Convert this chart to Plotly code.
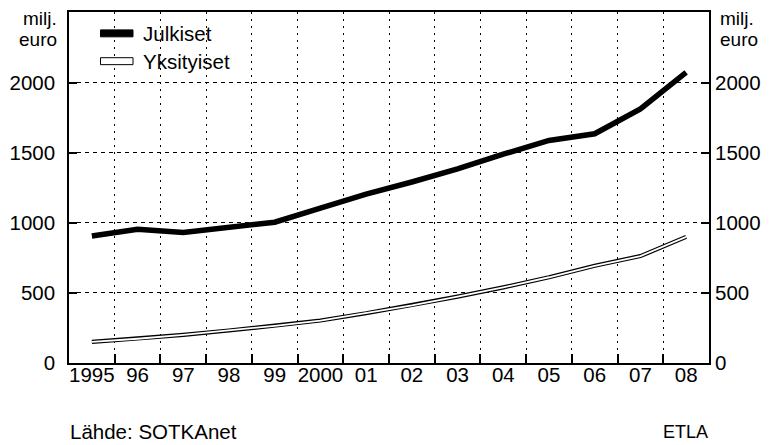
import plotly.graph_objects as go

years = ["1995", "96", "97", "98", "99", "2000", "01", "02", "03", "04", "05", "06", "07", "08"]
julkiset = [907, 955, 932, 968, 1005, 1105, 1205, 1292, 1385, 1490, 1588, 1636, 1813, 2074]
yksityiset = [151, 173, 201, 232, 265, 303, 355, 412, 474, 540, 612, 694, 763, 900]
y_ticks = [0, 500, 1000, 1500, 2000]

x = list(range(len(years)))
FONT = "Liberation Sans, Arial, sans-serif"
FS = 20.5

fig = go.Figure()
fig.add_trace(go.Scatter(x=x, y=julkiset, mode="lines", name="Julkiset",
                         line=dict(color="black", width=5.5), showlegend=False))
fig.add_trace(go.Scatter(x=x, y=yksityiset, mode="lines", name="Yksityiset",
                         line=dict(color="black", width=4.2), showlegend=False))
fig.add_trace(go.Scatter(x=x, y=yksityiset, mode="lines", name="Yksityiset",
                         line=dict(color="white", width=1.8), showlegend=False, hoverinfo="skip"))
fig.add_trace(go.Scatter(x=[None], y=[None], yaxis="y2", showlegend=False))

yr = [0, 2505]
fig.update_layout(
    width=771, height=445,
    margin=dict(l=63, r=58, t=10, b=82),
    paper_bgcolor="white", plot_bgcolor="white",
    font=dict(family=FONT, size=FS, color="black"),
    xaxis=dict(
        range=[-0.5, len(years) - 0.5],
        tickmode="array", tickvals=x, ticktext=years,
        ticks="", showgrid=False, zeroline=False, ticklabelstandoff=-7,
        showline=True, linecolor="black", linewidth=1.5, mirror=True,
        minor=dict(tickmode="array", tickvals=[i + 0.5 for i in x[:-1]],
                   ticks="inside", ticklen=9, tickcolor="black", tickwidth=1.5,
                   showgrid=True, gridcolor="black", gridwidth=1, griddash="2px,5px"),
    ),
    yaxis=dict(
        range=yr, tickmode="array", tickvals=y_ticks,
        ticks="inside", ticklen=8, tickcolor="black", tickwidth=1.5, ticklabelstandoff=8,
        showgrid=True, gridcolor="black", gridwidth=1, griddash="4px,4px",
        zeroline=False, showline=True, linecolor="black", linewidth=1.5, mirror=True,
    ),
    yaxis2=dict(
        range=yr, tickmode="array", tickvals=y_ticks, overlaying="y", side="right",
        ticks="inside", ticklen=8, tickcolor="black", tickwidth=1.5, ticklabelstandoff=5,
        showgrid=False, zeroline=False, showline=False,
    ),
)

def px_x(px):
    return (px - 63) / 650

def px_y(py):
    return (363.3 - py) / 353.3

shapes = [
    dict(type="rect", xref="paper", yref="paper", x0=px_x(95), x1=px_x(128),
         y0=px_y(35), y1=px_y(28), fillcolor="black", line=dict(color="black", width=1)),
    dict(type="rect", xref="paper", yref="paper", x0=px_x(95), x1=px_x(128),
         y0=px_y(63), y1=px_y(56), fillcolor="white", line=dict(color="black", width=1)),
]
fig.update_layout(shapes=shapes)

ann = [
    dict(text="Julkiset", x=px_x(136), y=px_y(31.5), xanchor="left", yanchor="middle"),
    dict(text="Yksityiset", x=px_x(136), y=px_y(59.5), xanchor="left", yanchor="middle"),
    dict(text="milj.", x=px_x(53), y=px_y(16.5), xanchor="right", yanchor="middle", font=dict(size=19)),
    dict(text="euro", x=px_x(53), y=px_y(37.5), xanchor="right", yanchor="middle", font=dict(size=19)),
    dict(text="milj.", x=px_x(722), y=px_y(16.5), xanchor="left", yanchor="middle", font=dict(size=19)),
    dict(text="euro", x=px_x(722), y=px_y(37.5), xanchor="left", yanchor="middle", font=dict(size=19)),
    dict(text="Lähde: SOTKAnet", x=px_x(62), y=px_y(432.5), xanchor="left", yanchor="middle"),
    dict(text="ETLA", x=px_x(714), y=px_y(432.5), xanchor="right", yanchor="middle", font=dict(size=18)),
]
for a in ann:
    a.update(xref="paper", yref="paper", showarrow=False)
fig.update_layout(annotations=ann)

fig.write_html("out.html", config={"displayModeBar": False},
               post_script="document.body.style.margin='0px';document.body.style.overflow='hidden';")
